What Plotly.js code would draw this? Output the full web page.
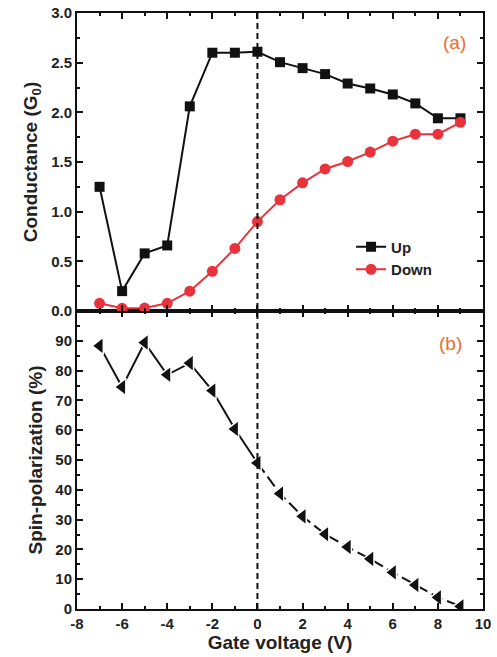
<!DOCTYPE html>
<html>
<head>
<meta charset="utf-8">
<script src="https://cdn.plot.ly/plotly-3.0.1.min.js"></script>
<style>html,body{margin:0;padding:0;background:#fff;}#chart{width:497px;height:657px;}</style>
</head>
<body>
<div id="chart"></div>
<script>
const gateVoltage = [-7, -6, -5, -4, -3, -2, -1, 0, 1, 2, 3, 4, 5, 6, 7, 8, 9];
const conductanceUp = [1.25, 0.20, 0.58, 0.66, 2.06, 2.60, 2.60, 2.61, 2.505, 2.445, 2.385, 2.29, 2.24, 2.18, 2.09, 1.94, 1.94];
const conductanceDown = [0.077, 0.027, 0.03, 0.077, 0.20, 0.40, 0.63, 0.90, 1.12, 1.29, 1.43, 1.505, 1.60, 1.71, 1.78, 1.78, 1.90];
const spinPolarization = [88.3, 74.5, 89.4, 78.6, 82.5, 73.3, 60.4, 49.0, 38.7, 31.1, 25.1, 20.8, 16.8, 12.3, 8.05, 3.9, 0.9];
const topTickVals = [0, 0.5, 1.0, 1.5, 2.0, 2.5, 3.0];
const topTickText = ['0.0', '0.5', '1.0', '1.5', '2.0', '2.5', '3.0'];
const bottomTickVals = [0, 10, 20, 30, 40, 50, 60, 70, 80, 90];
const xTickVals = [-8, -6, -4, -2, 0, 2, 4, 6, 8, 10];
const xTickText = ['-8', '-6', '-4', '-2', '0', '2', '4', '6', '8', '10'];

const splitIdx = gateVoltage.indexOf(0);
const FONT = 'Liberation Sans, Arial, sans-serif';
const tickFont = {family: FONT, size: 15, color: '#222', weight: 'bold'};

const traces = [
  {x: gateVoltage, y: conductanceUp, xaxis: 'x2', yaxis: 'y', name: 'Up', mode: 'lines+markers',
   line: {color: '#111', width: 2}, marker: {symbol: 'square', size: 10, color: '#111'}},
  {x: gateVoltage, y: conductanceDown, xaxis: 'x2', yaxis: 'y', name: 'Down', mode: 'lines+markers',
   line: {color: '#e8333d', width: 2}, marker: {symbol: 'circle', size: 11, color: '#e8333d'}},
  {x: gateVoltage.slice(0, splitIdx + 1), y: spinPolarization.slice(0, splitIdx + 1), xaxis: 'x', yaxis: 'y2',
   mode: 'lines', showlegend: false, line: {color: '#111', width: 2}},
  {x: gateVoltage.slice(splitIdx), y: spinPolarization.slice(splitIdx), xaxis: 'x', yaxis: 'y2',
   mode: 'lines', showlegend: false, line: {color: '#111', width: 2, dash: '12px,5px'}},
  {x: gateVoltage, y: spinPolarization, xaxis: 'x', yaxis: 'y2', mode: 'markers', showlegend: false,
   marker: {symbol: 'triangle-left', size: 15, color: '#111', line: {color: '#fff', width: 1.5}}}
];

const axisCommon = {showline: true, linecolor: '#111', linewidth: 2, mirror: 'ticks', ticks: 'inside',
  tickcolor: '#111', tickwidth: 2, ticklen: 6, showgrid: false, zeroline: false, tickfont: tickFont};

const layout = {
  width: 497, height: 657,
  margin: {l: 77, r: 14, t: 13, b: 48},
  paper_bgcolor: '#fff', plot_bgcolor: '#fff',
  showlegend: true,
  legend: {x: 0.675, y: 0.635, xanchor: 'left', yanchor: 'top', bgcolor: 'rgba(0,0,0,0)',
    font: {family: FONT, size: 15, color: '#222', weight: 'bold'}, itemwidth: 30, tracegroupgap: 0},
  xaxis: Object.assign({}, axisCommon, {anchor: 'y2', range: [-8, 10], tickvals: xTickVals, ticktext: xTickText,
    minor: {dtick: 1, ticks: 'inside', ticklen: 3, tickwidth: 2, tickcolor: '#111', showgrid: false},
    title: {text: 'Gate voltage (V)', font: {family: FONT, size: 19, color: '#222', weight: 'bold'}, standoff: 3}}),
  xaxis2: Object.assign({}, axisCommon, {anchor: 'y', matches: 'x', range: [-8, 10], tickvals: xTickVals, showticklabels: false,
    minor: {dtick: 1, ticks: 'inside', ticklen: 3, tickwidth: 2, tickcolor: '#111', showgrid: false}}),
  yaxis: Object.assign({}, axisCommon, {domain: [0.5, 1], anchor: 'x2', range: [0, 3], tickvals: topTickVals, ticktext: topTickText,
    minor: {dtick: 0.25, ticks: 'inside', ticklen: 3, tickwidth: 2, tickcolor: '#111', showgrid: false},
    title: {text: 'Conductance (G<sub>0</sub>)', font: {family: FONT, size: 19, color: '#222', weight: 'bold'}, standoff: 8}}),
  yaxis2: Object.assign({}, axisCommon, {domain: [0, 0.5], anchor: 'x', range: [0, 100], tickvals: bottomTickVals,
    minor: {dtick: 5, ticks: 'inside', ticklen: 3, tickwidth: 2, tickcolor: '#111', showgrid: false},
    title: {text: 'Spin-polarization (%)', font: {family: FONT, size: 19, color: '#222', weight: 'bold'}, standoff: 8}}),
  shapes: [{type: 'line', xref: 'x', yref: 'paper', x0: 0, x1: 0, y0: 0, y1: 1,
    line: {color: '#111', width: 2, dash: '6px,4px'}}],
  annotations: [
    {xref: 'x2', yref: 'y', x: 8.75, y: 2.70, text: '(a)', showarrow: false,
     font: {family: FONT, size: 19, color: '#f26a2c'}},
    {xref: 'x', yref: 'y2', x: 8.55, y: 89.2, text: '(b)', showarrow: false,
     font: {family: FONT, size: 19, color: '#f26a2c'}}
  ]
};

Plotly.newPlot('chart', traces, layout, {displayModeBar: false, staticPlot: true});
</script>
</body>
</html>
